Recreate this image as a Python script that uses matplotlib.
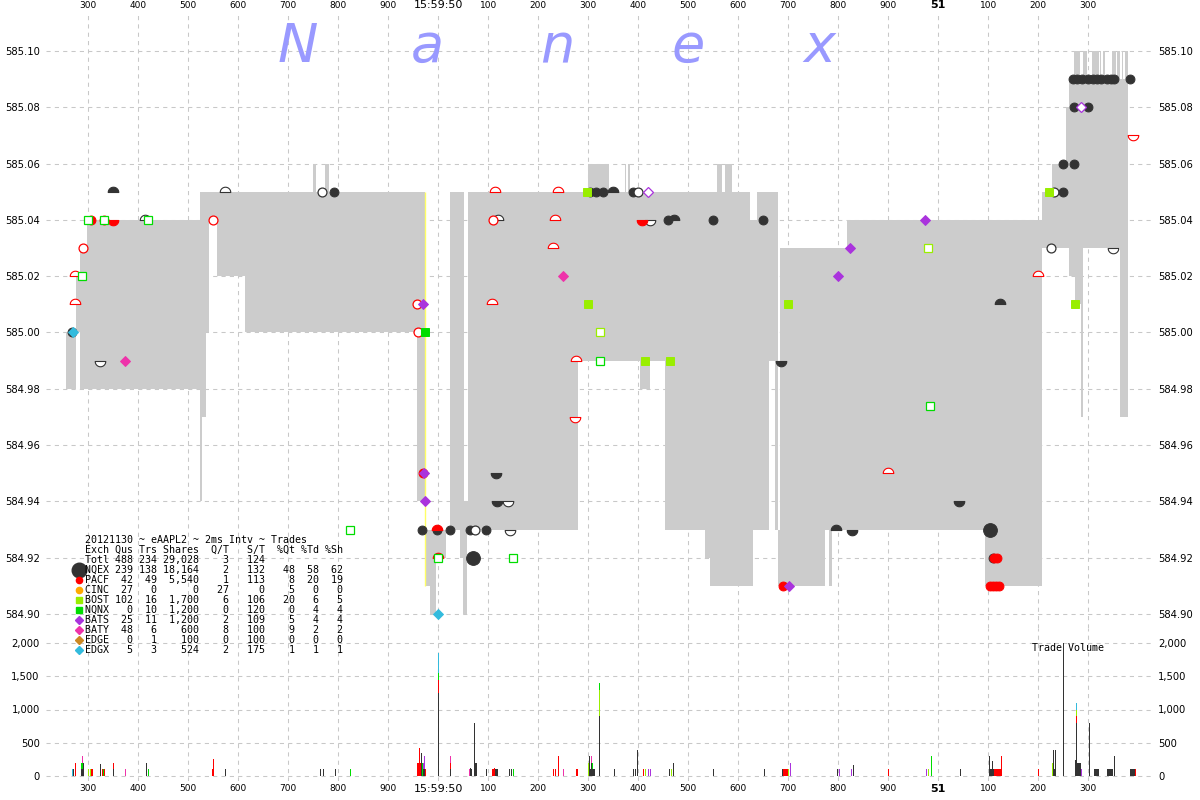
import matplotlib
matplotlib.use('Agg')
import matplotlib.pyplot as plt
import numpy as np
from matplotlib.path import Path

# ------------------------------------------------------------------ data
# time axis: milliseconds after 15:59:49.000
exch_names = ['NQEX', 'PACF', 'CINC', 'BOST', 'NQNX', 'BATS', 'BATY', 'EDGE', 'EDGX']
exch_colors = ['#333333', '#ff0000', '#ffaa00', '#99ee00', '#00dd00', '#aa33dd', '#ee33aa', '#cc8822', '#33bbdd']
exch_shape = ['o', 'o', 'o', 's', 's', 'D', 'D', 'D', 'D']

# NBBO band (bid..ask) segments
band_t0 = [256, 276, 284, 298, 524, 528, 536, 542, 558, 614, 750, 756, 774, 782, 958, 974, 984, 996,
           1024, 1044, 1050, 1052, 1058, 1060, 1280, 1300, 1342, 1374, 1376, 1380, 1384, 1404, 1424,
           1454, 1534, 1544, 1558, 1568, 1574, 1588, 1624, 1630, 1638, 1662, 1674, 1680, 1684, 1774,
           1782, 1788, 1818, 2094, 2208, 2228, 2256, 2262, 2274, 2286, 2290, 2364]
band_t1 = [276, 284, 298, 524, 528, 536, 542, 558, 614, 750, 756, 774, 782, 958, 974, 984, 996, 1016,
           1044, 1050, 1052, 1058, 1060, 1280, 1300, 1342, 1374, 1376, 1380, 1384, 1404, 1424, 1454,
           1534, 1544, 1558, 1568, 1574, 1588, 1624, 1630, 1638, 1662, 1674, 1680, 1684, 1774, 1782,
           1788, 1818, 2094, 2208, 2228, 2256, 2262, 2274, 2286, 2290, 2364, 2380]
band_bid = [584.98, 585.00, 584.98, 584.98, 584.94, 584.97, 585.00, 585.04, 585.02, 585.00, 585.00, 585.00,
            585.00, 585.00, 584.94, 584.91, 584.90, 584.92, 584.93, 584.92, 584.90, 584.90, 584.93, 584.93,
            584.99, 584.99, 584.99, 584.99, 584.99, 584.99, 584.99, 584.98, 584.99, 584.93, 584.92, 584.91,
            584.91, 584.91, 584.91, 584.91, 584.91, 584.93, 584.93, 584.99, 584.93, 584.91, 584.91, 584.93,
            584.91, 584.93, 584.93, 584.91, 585.03, 585.03, 585.03, 585.02, 585.01, 584.97, 585.03, 584.97]
band_ask = [585.00, 585.02, 585.03, 585.04, 585.05, 585.05, 585.05, 585.05, 585.05, 585.05, 585.06, 585.05,
            585.06, 585.05, 585.05, 584.93, 584.93, 584.93, 585.05, 585.05, 585.05, 584.94, 584.94, 585.05,
            585.05, 585.06, 585.05, 585.06, 585.05, 585.06, 585.05, 585.05, 585.05, 585.05, 585.05, 585.05,
            585.06, 585.05, 585.06, 585.05, 585.04, 585.04, 585.05, 585.05, 585.05, 584.93, 585.03, 585.03,
            585.03, 585.03, 585.04, 585.04, 585.05, 585.06, 585.08, 585.09, 585.09, 585.09, 585.09, 585.09]
spike_t0 = [2272, 2290, 2308, 2324, 2330, 2348, 2358, 2368, 2374]
spike_t1 = [2284, 2298, 2322, 2326, 2334, 2356, 2364, 2370, 2380]
spike_lo = [585.09] * 9
spike_hi = [585.10] * 9
cross_t, cross_lo, cross_hi = 974, 584.91, 585.05

# quotes / trades  (kind: f filled, F large filled, o open, u/U dome filled/open, d/D bowl filled/open)
nqex_t = [349, 573, 767, 791, 413, 268, 323, 967, 997, 1024, 1063, 1073, 1095, 1143, 1069, 1115, 1117, 1139,
          1303, 1315, 1329, 1349, 1390, 1400, 1424, 1120, 1460, 1471, 1549, 1649, 1686, 1795, 1827, 2041,
          2103, 2123, 2109, 2225, 2231, 2250, 2249, 2271, 2271, 2299,
          2269, 2277, 2287, 2299, 2309, 2317, 2325, 2337, 2345, 2351, 2383, 2349]
nqex_p = [585.05, 585.05, 585.05, 585.05, 585.04, 585.00, 584.99, 584.93, 584.93, 584.93, 584.93, 584.93,
          584.93, 584.93, 584.92, 584.95, 584.94, 584.94, 585.05, 585.05, 585.05, 585.05, 585.05, 585.05,
          585.04, 585.04, 585.04, 585.04, 585.04, 585.04, 584.99, 584.93, 584.93, 584.94, 584.93, 585.01,
          584.92, 585.03, 585.05, 585.05, 585.06, 585.06, 585.08, 585.08,
          585.09, 585.09, 585.09, 585.09, 585.09, 585.09, 585.09, 585.09, 585.09, 585.09, 585.09, 585.03]
nqex_k = list("uUofUfDffff" "ofDFddDfffu" "foDUfuffdud" "dFufoofffff" "fffffffffff" "D")

pacf_t = [305, 332, 350, 289, 273, 273, 549, 957, 960, 997, 999, 1113, 1239, 1233, 1229, 1107, 1275, 1110,
          1273, 1407, 1690, 1899, 2199, 2111, 2117, 2103, 2109, 2115, 2121, 2389, 970]
pacf_p = [585.04, 585.04, 585.04, 585.03, 585.02, 585.01, 585.04, 585.01, 585.00, 584.93, 584.92, 585.05,
          585.05, 585.04, 585.03, 585.01, 584.99, 585.04, 584.97, 585.04, 584.91, 584.95, 585.02, 584.92,
          584.92, 584.91, 584.91, 584.91, 584.91, 585.07, 584.95]
pacf_k = list("ffdoUUooouuUUUUUUoDdfUUffffffDf")

bost_t = [1297, 1299, 1413, 1463, 1699, 2273, 2222, 1323, 1979]
bost_p = [585.05, 585.01, 584.99, 584.99, 585.01, 585.01, 585.05, 585.00, 585.03]
bost_k = list("fffffffoo")

nqnx_t = [300, 331, 419, 287, 823, 999, 1149, 1323, 1983, 973]
nqnx_p = [585.04, 585.04, 585.04, 585.02, 584.93, 584.92, 584.92, 584.99, 584.974, 585.00]
nqnx_k = list("ooooooooof")

bats_t = [970, 972, 974, 1702, 1974, 1824, 1800, 1420, 2285]
bats_p = [585.01, 584.95, 584.94, 584.91, 585.04, 585.03, 585.02, 585.05, 585.08]
bats_k = list("fffffffoo")

baty_t = [374, 1250]
baty_p = [584.99, 585.02]
baty_k = list("ff")

edgx_t = [270, 1000]
edgx_p = [585.00, 584.90]
edgx_k = list("ff")

# trade volume
vol_t = [268, 270, 273, 286, 286, 288, 288, 288, 290, 300, 304, 306, 308, 323, 328, 330, 332, 349, 349, 374,
         416, 420, 548, 550, 573, 764, 770, 793, 824,
         958, 960, 962, 964, 966, 968, 970, 970, 972, 972, 974,
         1000, 1000, 1000, 1000, 1024, 1024, 1024, 1062, 1064, 1066, 1072, 1074, 1076, 1096,
         1108, 1110, 1112, 1114, 1116, 1118, 1141, 1145, 1150, 1230, 1233, 1240, 1250, 1275, 1277,
         1300, 1302, 1304, 1306, 1306, 1308, 1308, 1310, 1312, 1322, 1322, 1322,
         1351, 1390, 1394, 1398, 1410, 1414, 1420, 1424, 1461, 1465, 1470, 1550, 1651,
         1687, 1690, 1692, 1694, 1696, 1698, 1700, 1703, 1798, 1801, 1825, 1829, 1900, 1975, 1980, 1985, 2044,
         2101, 2103, 2105, 2107, 2109, 2111, 2113, 2115, 2117, 2119, 2121, 2123, 2125, 2200,
         2227, 2228, 2230, 2232, 2234, 2250,
         2273, 2275, 2275, 2275, 2275, 2277, 2279, 2281, 2283, 2286, 2301,
         2312, 2314, 2316, 2318, 2320, 2337, 2339, 2341, 2343, 2345, 2347, 2351,
         2383, 2385, 2387, 2389, 2391, 2393]
vol_ex = ['EDGX', 'NQEX', 'PACF', 'NQEX', 'NQNX', 'NQEX', 'NQNX', 'BATY', 'NQEX', 'BOST', 'BOST', 'PACF', 'PACF',
          'NQEX', 'PACF', 'NQNX', 'PACF', 'NQEX', 'PACF', 'BATY',
          'NQEX', 'NQNX', 'PACF', 'PACF', 'NQEX', 'NQEX', 'NQEX', 'NQEX', 'NQNX',
          'PACF', 'PACF', 'PACF', 'PACF', 'NQEX', 'NQNX', 'NQEX', 'BATS', 'NQEX', 'BATS', 'PACF',
          'NQEX', 'PACF', 'NQNX', 'EDGX', 'NQEX', 'PACF', 'BATY', 'BATY', 'NQEX', 'NQEX', 'NQEX', 'NQEX', 'NQEX', 'NQEX',
          'PACF', 'PACF', 'PACF', 'NQEX', 'NQEX', 'NQEX', 'NQEX', 'NQEX', 'NQNX', 'PACF', 'PACF', 'PACF', 'BATY', 'PACF', 'PACF',
          'BOST', 'NQEX', 'NQEX', 'NQEX', 'BATY', 'NQEX', 'NQNX', 'NQEX', 'NQEX', 'NQEX', 'BOST', 'NQNX',
          'NQEX', 'NQEX', 'NQEX', 'NQEX', 'PACF', 'BOST', 'BATS', 'BATS', 'NQEX', 'BOST', 'NQEX', 'NQEX', 'NQEX',
          'NQEX', 'PACF', 'PACF', 'PACF', 'PACF', 'PACF', 'BOST', 'BATS', 'NQEX', 'BATS', 'BATS', 'NQEX', 'PACF',
          'BATS', 'BOST', 'NQNX', 'NQEX',
          'NQEX', 'NQEX', 'NQEX', 'NQEX', 'NQEX', 'PACF', 'PACF', 'PACF', 'PACF', 'PACF', 'PACF', 'PACF', 'PACF', 'PACF',
          'NQEX', 'BOST', 'NQEX', 'NQEX', 'NQEX', 'NQEX',
          'NQEX', 'NQEX', 'PACF', 'BOST', 'EDGX', 'NQEX', 'NQEX', 'NQEX', 'NQEX', 'BATS', 'NQEX',
          'NQEX', 'NQEX', 'NQEX', 'NQEX', 'NQEX', 'NQEX', 'NQEX', 'NQEX', 'NQEX', 'NQEX', 'NQEX', 'NQEX',
          'NQEX', 'NQEX', 'NQEX', 'NQEX', 'NQEX', 'PACF']
vol_sh = [100, 100, 200, 100, 100, 100, 100, 100, 200, 100, 100, 100, 100, 180, 100, 100, 100, 100, 100, 100,
          200, 100, 100, 250, 100, 100, 100, 100, 100,
          200, 200, 420, 200, 340, 200, 100, 100, 100, 200, 100,
          1250, 200, 100, 300, 100, 100, 100, 100, 120, 100, 790, 200, 200, 100,
          100, 100, 120, 100, 100, 100, 100, 100, 100, 100, 100, 300, 100, 100, 100,
          200, 300, 100, 200, 100, 100, 100, 100, 100, 900, 400, 100,
          100, 100, 100, 390, 100, 100, 100, 100, 100, 100, 200, 100, 100,
          100, 100, 100, 100, 100, 100, 100, 200, 100, 100, 100, 160, 100, 100, 100, 300, 100,
          300, 100, 100, 220, 100, 100, 100, 100, 100, 100, 100, 100, 300, 100,
          100, 200, 390, 100, 390, 2000,
          235, 800, 100, 100, 100, 200, 200, 200, 200, 100, 800,
          100, 100, 100, 100, 100, 100, 100, 100, 100, 100, 100, 300,
          100, 100, 100, 100, 100, 100]

# axis ticks
x_ticks = [300, 400, 500, 600, 700, 800, 900, 1000, 1100, 1200, 1300, 1400, 1500, 1600, 1700, 1800,
           1900, 2000, 2100, 2200, 2300]
x_labels = ['300', '400', '500', '600', '700', '800', '900', '15:59:50', '100', '200', '300', '400',
            '500', '600', '700', '800', '900', '51', '100', '200', '300']
price_ticks = [584.90, 584.92, 584.94, 584.96, 584.98, 585.00, 585.02, 585.04, 585.06, 585.08, 585.10]
vol_ticks = [0, 500, 1000, 1500, 2000]

# summary table
tbl_title = '20121130 ~ eAAPL2 ~ 2ms Intv ~ Trades'
tbl_total = ['Totl', 488, 234, 29028, 3, 124]
tbl_qus = [239, 42, 27, 102, 0, 25, 48, 0, 5]
tbl_trs = [138, 49, 0, 16, 10, 11, 6, 1, 3]
tbl_shares = [18164, 5540, 0, 1700, 1200, 1200, 600, 100, 524]
tbl_qt = [2, 1, 27, 6, 0, 2, 8, 0, 2]
tbl_st = [132, 113, 0, 106, 120, 109, 100, 100, 175]
tbl_pqt = [48, 8, 5, 20, 0, 5, 9, 0, 1]
tbl_ptd = [58, 20, 0, 6, 4, 4, 2, 0, 1]
tbl_psh = [62, 19, 0, 5, 4, 4, 2, 0, 1]

# ------------------------------------------------------------------ figure
W, H = 1200, 800
fig = plt.figure(figsize=(12, 8), dpi=100)
L, R = 46, 1152
ax = fig.add_axes([L / W, 1 - 628 / H, (R - L) / W, (628 - 13) / H])
axv = fig.add_axes([L / W, 1 - 781 / H, (R - L) / W, (781 - 628) / H], sharex=ax)

t_lo = 2 * L + 123.4
t_hi = 2 * R + 123.4
ax.set_xlim(t_lo, t_hi)
pp = 0.02 / 56.3
ax.set_ylim(585.10 - (628 - 51) * pp, 585.10 + (51 - 13) * pp)
vp = 2000 / 133.0
axv.set_ylim(-(781 - 776) * vp, (776 - 628) * vp)

grid_kw = dict(color='#c8c8c8', linestyle=(0, (4, 4)), linewidth=0.75)
for a in (ax, axv):
    for s in a.spines.values():
        s.set_visible(False)
    a.set_axisbelow(True)
    a.grid(True, **grid_kw)
    a.set_facecolor('none')
    a.tick_params(length=0, labelsize=7.2, labelleft=True, labelright=True, pad=4.5)

ax.set_xticks(x_ticks)
ax.set_xticklabels(x_labels)
ax.tick_params(axis='x', labeltop=True, labelbottom=False, pad=2.5, labelsize=6.5)
axv.tick_params(axis='x', labeltop=False, labelbottom=True, pad=2.5, labelsize=6.5)
for a in (ax, axv):
    for lab in (a.get_xticklabels()):
        if lab.get_text() == '15:59:50':
            lab.set_fontsize(8)
        if lab.get_text() == '51':
            lab.set_fontsize(8)
            lab.set_fontweight('bold')
ax.set_yticks(price_ticks)
ax.set_yticklabels([f'{v:.2f}' for v in price_ticks])
axv.set_yticks(vol_ticks)
axv.set_yticklabels([f'{v:,}' for v in vol_ticks])

# band
ax.bar(band_t0, np.array(band_ask) - np.array(band_bid), width=np.array(band_t1) - np.array(band_t0),
       bottom=band_bid, align='edge', color='#cccccc', linewidth=0, zorder=1)
ax.bar(spike_t0, np.array(spike_hi) - np.array(spike_lo), width=np.array(spike_t1) - np.array(spike_t0),
       bottom=spike_lo, align='edge', color='#cccccc', linewidth=0, zorder=1)
ax.vlines(cross_t, cross_lo, cross_hi, color='#ffff66', linewidth=1, zorder=2)

# markers
th = np.linspace(0, np.pi, 25)
dome = Path(np.vstack([np.column_stack([np.cos(th), np.sin(th)]), [[1, 0]]]), closed=True)
bowl = Path(np.vstack([np.column_stack([np.cos(th), -np.sin(th)]), [[1, 0]]]), closed=True)

series = [('NQEX', nqex_t, nqex_p, nqex_k), ('PACF', pacf_t, pacf_p, pacf_k),
          ('BOST', bost_t, bost_p, bost_k), ('NQNX', nqnx_t, nqnx_p, nqnx_k),
          ('BATS', bats_t, bats_p, bats_k), ('BATY', baty_t, baty_p, baty_k),
          ('EDGX', edgx_t, edgx_p, edgx_k)]
for name, ts, ps, ks in series:
    i = exch_names.index(name)
    col = exch_colors[i]
    shp = exch_shape[i]
    base = {'o': 6.4, 's': 5.6, 'D': 5.0}[shp]
    for t, p, k in zip(ts, ps, ks):
        if k in 'fF':
            ax.plot(t, p, marker=shp, ms=base * (1.55 if k == 'F' else 1), color=col, mec=col,
                    mew=0.7, linestyle='none', zorder=4)
        elif k == 'o':
            ax.plot(t, p, marker=shp, ms=base, mfc='white', mec=col, mew=0.9, linestyle='none', zorder=4)
        else:
            m = dome if k in 'uU' else bowl
            fc = col if k in 'ud' else 'white'
            ax.plot(t, p, marker=m, ms=7.6, mfc=fc, mec=col, mew=0.8, linestyle='none', zorder=4)

# volume bars (stacked by exchange order)
order = {e: i for i, e in enumerate(exch_names)}
idx = sorted(range(len(vol_t)), key=lambda i: (vol_t[i], order[vol_ex[i]]))
bottoms = {}
for i in idx:
    b = bottoms.get(vol_t[i], 0)
    axv.bar(vol_t[i], vol_sh[i], width=2.2, bottom=b, align='edge',
            color=exch_colors[order[vol_ex[i]]], linewidth=0, zorder=2, antialiased=False)
    bottoms[vol_t[i]] = b + vol_sh[i]

# overlay in pixel coordinates for annotations
ov = fig.add_axes([0, 0, 1, 1], zorder=10)
ov.set_xlim(0, W)
ov.set_ylim(H, 0)
ov.axis('off')
ov.patch.set_alpha(0)

# watermark
for ch, x in zip('Nanex', [298, 427, 557, 688, 819]):
    ov.text(x, 62, ch, fontsize=39, style='italic', color='#9999ff', ha='center', va='baseline',
            family='DejaVu Sans')

mono = dict(family='DejaVu Sans Mono', fontsize=7.2, va='center', ha='left', color='black')
rows = [tbl_title, 'Exch Qus Trs Shares  Q/T   S/T  %Qt %Td %Sh',
        f'{tbl_total[0]:<4} {tbl_total[1]:>3} {tbl_total[2]:>3} {tbl_total[3]:>6,}{tbl_total[4]:>5}{tbl_total[5]:>6}']
for i, n in enumerate(exch_names):
    rows.append(f'{n:<4} {tbl_qus[i]:>3} {tbl_trs[i]:>3} {tbl_shares[i]:>6,}{tbl_qt[i]:>5}{tbl_st[i]:>6}'
                f'{tbl_pqt[i]:>5}{tbl_ptd[i]:>4}{tbl_psh[i]:>4}')
for j, r in enumerate(rows):
    ov.text(85, 540 + 10 * j, r, **mono)
for i, n in enumerate(exch_names):
    y = 570 + 10 * i
    shp = exch_shape[i]
    ms = 10.5 if i == 0 else {'o': 4.5, 's': 4.5, 'D': 4.2}[shp]
    ov.plot(78.5, y, marker=shp, ms=ms, color=exch_colors[i], linestyle='none')

ov.text(1032, 648, 'Trade Volume', **mono)

fig.savefig('out.png', dpi=100)
